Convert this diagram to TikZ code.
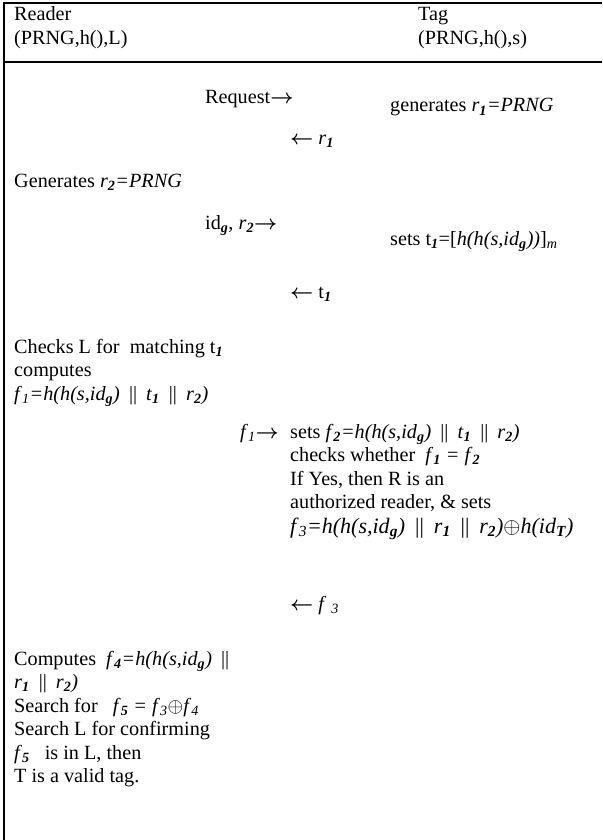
\RequirePackage{fix-cm}
\documentclass[tikz,border=0pt]{standalone}
\usepackage{fontspec}
\setmainfont{Liberation Serif}
\newcommand\bsb[1]{\textsubscript{\bfseries\itshape #1}}
\newcommand\isb[1]{\textsubscript{\itshape #1}}
\newcommand\rar{{\boldmath$\rightarrow$}}
\newcommand\lar{{\boldmath$\leftarrow$}}
\newcommand\dbar{\hspace{0.45em}||\hspace{0.45em}}
\tikzset{
  txt/.style={inner sep=0pt, anchor=base west, font=\fontsize{20.2}{23.5}\selectfont},
  bigtxt/.style={txt, font=\fontsize{22}{23.5}\selectfont},
  frameline/.style={line width=1.1pt}
}
\begin{document}
\begin{tikzpicture}[x=1pt,y=-1pt]
\useasboundingbox (0,0) rectangle (602,840);
\coordinate (tl) at (4,3);
\coordinate (tr) at (602,3);
\coordinate (bl) at (4,840);
\coordinate (sl) at (4,62);
\coordinate (sr) at (602,62);
\draw[frameline] (bl) -- (tl) -- (tr);
\draw[frameline] (sl) -- (sr);
% header
\node[txt] (rd1) at (14,21) {Reader};
\node[txt] (rd2) at (14,44.5) {(PRNG,h(),L)};
\node[txt] (tg1) at (418,21) {Tag};
\node[txt] (tg2) at (418,44.5) {(PRNG,h(),s)};
% messages
\node[txt] (m1) at (205,104) {Request\rar};
\node[txt] (t1) at (390,112) {generates \textit{r}\bsb{1}\textit{=PRNG}};
\node[txt] (m2) at (290,144) {\lar\ \textit{r}\bsb{1}};
\node[txt] (r1) at (14,187) {Generates \textit{r}\bsb{2}\textit{=PRNG}};
\node[txt] (m3) at (205,229) {id\bsb{g}, \textit{r}\bsb{2}\rar};
\node[txt] (t2) at (390,245) {sets t\bsb{1}=[\textit{h(h(s,id}\bsb{g}\textit{))}]\isb{m}};
\node[txt] (m4) at (290,298) {\lar\ t\bsb{1}};
\node[txt] (r2a) at (14,353) {Checks L for\ \ matching t\bsb{1}};
\node[txt] (r2b) at (14,376.5) {computes};
\node[txt] (r2c) at (14,400) {\textit{f}\isb{1}\textit{=h(h(s,id}\bsb{g}\textit{)}\dbar\textit{t}\bsb{1}\dbar\textit{r}\bsb{2}\textit{)}};
\node[txt] (m5) at (240,438) {\textit{f}\isb{1}\rar};
\node[txt] (t3a) at (290,438) {sets \textit{f}\bsb{2}\textit{=h(h(s,id}\bsb{g}\textit{)}\dbar\textit{t}\bsb{1}\dbar\textit{r}\bsb{2}\textit{)}};
\node[txt] (t3b) at (290,461.5) {checks whether\ \ \textit{f}\bsb{1} \textit{=} \textit{f}\bsb{2}};
\node[txt] (t3c) at (290,485) {If Yes, then R is an};
\node[txt] (t3d) at (290,508.5) {authorized reader, \& sets};
\node[bigtxt] (t3e) at (290,533) {\textit{f}\isb{3}\textit{=h(h(s,id}\bsb{g}\textit{)}\dbar\textit{r}\bsb{1}\dbar\textit{r}\bsb{2}\textit{)}$\oplus$\textit{h(id}\bsb{T}\textit{)}};
\node[txt] (m6) at (290,610) {\lar\ \textit{f} \isb{3}};
\node[txt] (r3a) at (14,665) {Computes\ \ \textit{f}\bsb{4}\textit{=h(h(s,id}\bsb{g}\textit{)}\hspace{0.45em}||};
\node[txt] (r3b) at (14,688.5) {\textit{r}\bsb{1}\dbar\textit{r}\bsb{2}\textit{)}};
\node[txt] (r3c) at (14,712) {Search for\ \ \ \textit{f}\bsb{5} \textit{=} \textit{f}\isb{3}$\oplus$\textit{f}\isb{4}};
\node[txt] (r3d) at (14,735.5) {Search L for confirming};
\node[txt] (r3e) at (14,759) {\textit{f}\bsb{5}\ \ \ is in L, then};
\node[txt] (r3f) at (14,782.5) {T is a valid tag.};
\end{tikzpicture}
\end{document}
